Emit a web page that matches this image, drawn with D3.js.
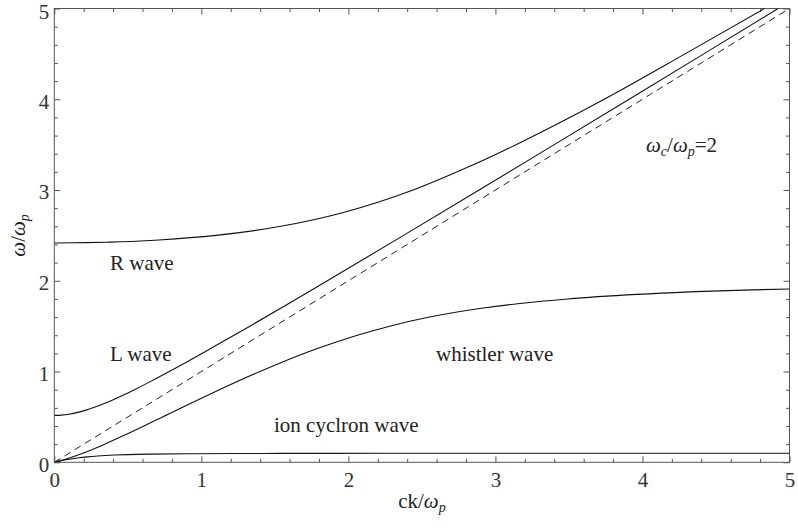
<!DOCTYPE html>
<html>
<head>
<meta charset="utf-8">
<script src="https://cdn.jsdelivr.net/npm/d3@7"></script>
<style>
  body { margin: 0; background: #fff; }
  svg { display: block; }
</style>
</head>
<body>
<div id="chart"></div>
<script>
// Readings, [ck/wp, w/wp]
const rWave = [[0, 2.417], [0.21, 2.42], [0.36, 2.425], [0.45, 2.43], [0.71, 2.45], [1.10, 2.5],
  [1.54, 2.6], [1.96, 2.75], [2.44, 3.0], [2.81, 3.25], [3.14, 3.5], [3.74, 4.0], [4.29, 4.5], [4.83, 5.0]];
const lWave = [[0, 0.517], [0.046, 0.52], [0.099, 0.53], [0.160, 0.55], [0.216, 0.575], [0.263, 0.6],
  [0.344, 0.65], [0.415, 0.7], [0.482, 0.75], [0.545, 0.8], [0.666, 0.9], [0.782, 1.0], [0.895, 1.1],
  [1.060, 1.25], [1.330, 1.5], [1.595, 1.75], [1.857, 2.0], [2.375, 2.5], [2.889, 3.0], [3.400, 3.5],
  [3.909, 4.0], [4.417, 4.5], [4.923, 5.0]];
const whistler = [[0, 0], [0.024, 0.01], [0.107, 0.05], [0.194, 0.1], [0.343, 0.2], [0.479, 0.3],
  [0.736, 0.5], [1.058, 0.75], [1.398, 1.0], [1.545, 1.1], [1.784, 1.25], [2.061, 1.4], [2.281, 1.5],
  [2.552, 1.6], [2.917, 1.7], [3.165, 1.75], [3.492, 1.8], [3.963, 1.85], [4.75, 1.9], [5.0, 1.91]];
const ionCyclotron = [[0, 0], [0.026, 0.01], [0.055, 0.02], [0.087, 0.03], [0.124, 0.04], [0.168, 0.05],
  [0.223, 0.06], [0.296, 0.07], [0.41, 0.08], [0.50, 0.085], [0.644, 0.09], [0.956, 0.095],
  [1.257, 0.097], [1.553, 0.098], [2.216, 0.099], [3.148, 0.0995], [5.0, 0.0998]];
const lightLine = [[0, 0], [5, 5]];

const majorTicks = [0, 1, 2, 3, 4, 5];
const minorTicks = d3.range(0, 5.01, 0.2).map(v => +v.toFixed(1)).filter(v => v % 1 !== 0);

const width = 798, height = 530;
const margin = { left: 54.3, right: 8.5, top: 8.5, bottom: 67.7 };
const serif = '"Liberation Serif", "Times New Roman", Times, "DejaVu Serif", serif';
const labelSize = 21;

const svg = d3.select('#chart').append('svg')
  .attr('width', width)
  .attr('height', height);

const x = d3.scaleLinear().domain([0, 5]).range([margin.left, width - margin.right]);
const y = d3.scaleLinear().domain([0, 5]).range([height - margin.bottom, margin.top]);

const axisColor = '#555';

// frame axes with inward ticks on all four sides
function addAxis(axisFn, translate, values, size, labels, pad) {
  const g = svg.append('g')
    .attr('transform', translate)
    .call(axisFn
      .tickValues(values)
      .tickSize(-size)
      .tickSizeOuter(0)
      .tickPadding(pad || 0)
      .tickFormat(labels ? d3.format('d') : ''));
  // axis() writes its own font attrs, so set ours afterwards
  g.attr('font-family', serif).attr('font-size', labelSize);
  g.select('.domain').remove();
  g.selectAll('line').attr('stroke', axisColor).attr('stroke-width', 1);
  g.selectAll('text').attr('fill', '#333');
  return g;
}

addAxis(d3.axisBottom(x), `translate(0,${y(0)})`, majorTicks, 6, true, 10);
addAxis(d3.axisBottom(x), `translate(0,${y(0)})`, minorTicks, 3.5, false);
const gLeft = addAxis(d3.axisLeft(y), `translate(${x(0)},0)`, majorTicks, 6, true, 5);
addAxis(d3.axisLeft(y), `translate(${x(0)},0)`, minorTicks, 3.5, false);
addAxis(d3.axisTop(x), `translate(0,${y(5)})`, majorTicks, 6, false);
addAxis(d3.axisTop(x), `translate(0,${y(5)})`, minorTicks, 3.5, false);
addAxis(d3.axisRight(y), `translate(${x(5)},0)`, majorTicks, 6, false);
addAxis(d3.axisRight(y), `translate(${x(5)},0)`, minorTicks, 3.5, false);

gLeft.selectAll('text').attr('dy', d => d === 5 ? '0.48em' : '0.42em');

svg.append('rect')
  .attr('x', x(0)).attr('y', y(5))
  .attr('width', x(5) - x(0)).attr('height', y(0) - y(5))
  .attr('fill', 'none')
  .attr('stroke', axisColor)
  .attr('stroke-width', 1);

// curves
const line = d3.line()
  .x(d => x(d[0]))
  .y(d => y(d[1]))
  .curve(d3.curveMonotoneX);

svg.append('clipPath').attr('id', 'plotClip')
  .append('rect')
  .attr('x', x(0)).attr('y', y(5))
  .attr('width', x(5) - x(0)).attr('height', y(0) - y(5));

const plot = svg.append('g').attr('clip-path', 'url(#plotClip)');

[rWave, lWave, whistler, ionCyclotron].forEach(series => {
  plot.append('path')
    .datum(series)
    .attr('d', line)
    .attr('fill', 'none')
    .attr('stroke', '#111')
    .attr('stroke-width', 1.1);
});

plot.append('path')
  .datum(lightLine)
  .attr('d', line)
  .attr('fill', 'none')
  .attr('stroke', '#222')
  .attr('stroke-width', 1)
  .attr('stroke-dasharray', '7,5');

// labels
function textAt(px, py) {
  return svg.append('text')
    .attr('x', px).attr('y', py)
    .attr('font-family', serif)
    .attr('font-size', labelSize)
    .attr('fill', '#222');
}
textAt(110, 270).text('R wave');
textAt(110, 361).text('L wave');
textAt(436, 361).text('whistler wave');
textAt(274, 432).text('ion cyclron wave');

const ratio = textAt(646, 152);
ratio.append('tspan').attr('font-style', 'italic').text('ω');
ratio.append('tspan').attr('font-style', 'italic').attr('font-size', 14).attr('dy', 4).text('c');
ratio.append('tspan').attr('dy', -4).text('/');
ratio.append('tspan').attr('font-style', 'italic').text('ω');
ratio.append('tspan').attr('font-style', 'italic').attr('font-size', 14).attr('dy', 4).text('p');
ratio.append('tspan').attr('dy', -4).text('=2');

// axis titles
const xTitle = textAt((x(0) + x(5)) / 2, 508).attr('text-anchor', 'middle');
xTitle.append('tspan').text('ck/');
xTitle.append('tspan').attr('font-style', 'italic').text('ω');
xTitle.append('tspan').attr('font-style', 'italic').attr('font-size', 14).attr('dy', 4).text('p');

const yTitle = textAt(0, 0)
  .attr('transform', `translate(25,${(y(0) + y(5)) / 2}) rotate(-90)`)
  .attr('text-anchor', 'middle');
yTitle.append('tspan').attr('font-style', 'italic').text('ω');
yTitle.append('tspan').text('/');
yTitle.append('tspan').attr('font-style', 'italic').text('ω');
yTitle.append('tspan').attr('font-style', 'italic').attr('font-size', 14).attr('dy', 4).text('p');
</script>
</body>
</html>
